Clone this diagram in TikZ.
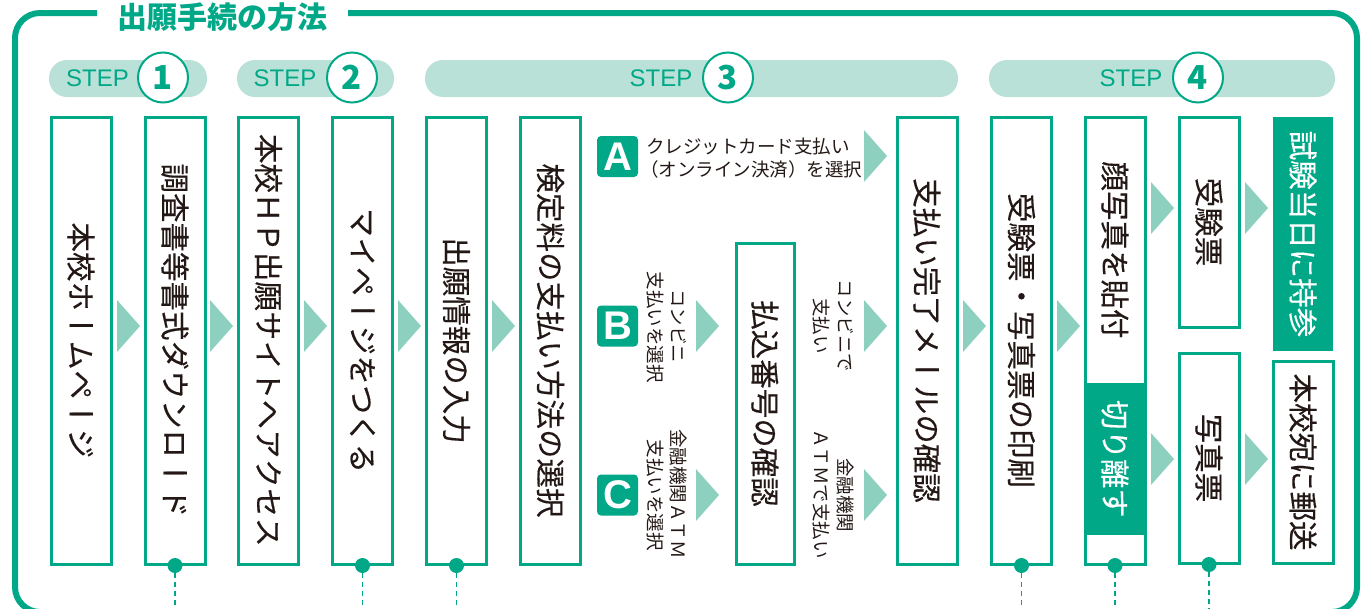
\documentclass[tikz,border=0pt]{standalone}
\usepackage{fontspec}
\newfontfamily\jp{Noto Sans CJK JP}
\newfontfamily\vt{Noto Sans CJK JP}[Vertical=RotatedGlyphs]
\newfontfamily\vtm{Noto Sans CJK JP}[Vertical=RotatedGlyphs, FakeBold=0.35]
\newfontfamily\lat{Liberation Sans}
\definecolor{gr}{HTML}{00A887}
\definecolor{pl}{HTML}{B9E1D7}
\definecolor{ar}{HTML}{8DD0C0}
\definecolor{ink}{HTML}{231815}
\newcommand\tri[2]{\fill[ar] (#1,#2-26) -- (#1+23,#2) -- (#1,#2+26) -- cycle;}
\begin{document}
\begin{tikzpicture}[x=1pt,y=-1pt,
  box/.style={draw=gr, line width=3pt, fill=white, rotate=-90, inner sep=0pt,
    minimum height=60pt, text=ink, font=\vtm\fontsize{29.5}{29.5}\selectfont},
  gbox/.style={fill=gr, rotate=-90, inner sep=0pt, minimum height=60pt,
    text=white, font=\vtm\fontsize{29.5}{29.5}\selectfont},
  vsmall/.style={rotate=-90, inner sep=0pt, text=ink, font=\vt\fontsize{18.5}{18.5}\selectfont},
  pill/.style={fill=pl, rounded corners=18pt, minimum height=37pt, inner sep=0pt},
  steptxt/.style={text=gr, inner sep=0pt, font=\lat\fontsize{24}{24}\selectfont},
  num/.style={circle, draw=gr, line width=2pt, fill=white, minimum size=50pt, inner sep=0pt,
    text=gr, font=\jp\bfseries\fontsize{33}{33}\selectfont},
  badge/.style={fill=gr, rounded corners=4pt, minimum size=41pt, inner sep=0pt,
    text=white, font=\lat\bfseries\fontsize{40}{40}\selectfont},
  dot/.style={circle, fill=gr, minimum size=15pt, inner sep=0pt},
  dline/.style={gr, line width=1.7pt, dash pattern=on 5pt off 4pt}]
\useasboundingbox (0,0) rectangle (1362,608);
% frame
\draw[gr, line width=6pt, rounded corners=25pt] (97,13) -- (15,13) -- (15,612) -- (1357,612) -- (1357,13) -- (348,13);
\node[text=gr, inner sep=0pt, font=\jp\bfseries\fontsize{30}{30}\selectfont] (title) at (222.5,17) {出願手続の方法};
% step pills
\node[pill, minimum width=158pt] (p1) at (128,78.5) {};
\node[pill, minimum width=157pt] (p2) at (315.5,78.5) {};
\node[pill, minimum width=533pt] (p3) at (691.5,78.5) {};
\node[pill, minimum width=346pt] (p4) at (1162,78.5) {};
\node[steptxt] (s1) at (97.5,78.5) {STEP};
\node[steptxt] (s2) at (285,78.5) {STEP};
\node[steptxt] (s3) at (661,78.5) {STEP};
\node[steptxt] (s4) at (1131,78.5) {STEP};
\node[num] (n1) at (163,77.5) {1};
\node[num] (n2) at (352,77.5) {2};
\node[num] (n3) at (728,77.5) {3};
\node[num] (n4) at (1198,77.5) {4};
% arrows
\tri{117}{326}\tri{210}{326}\tri{304}{326}\tri{398}{326}\tri{492}{326}
\tri{864}{156}\tri{696}{326}\tri{864}{326}\tri{696}{495}\tri{864}{495}
\tri{963}{326}\tri{1057}{326}
\tri{1151}{208}\tri{1245}{208}\tri{1151}{459}\tri{1245}{459}
% boxes
\node[box, minimum width=447pt] (b1) at (81,340.5) {本校ホームページ};
\node[box, minimum width=447pt] (b2) at (175,340.5) {調査書等書式ダウンロード};
\node[box, minimum width=447pt] (b3) at (268.5,340.5) {本校ＨＰ出願サイトへアクセス};
\node[box, minimum width=447pt] (b4) at (362.5,340.5) {マイページをつくる};
\node[box, minimum width=447pt] (b5) at (456.5,340.5) {出願情報の入力};
\node[box, minimum width=447pt] (b6) at (550.5,340.5) {検定料の支払い方法の選択};
\node[box, minimum width=321pt, minimum height=58pt] (bm) at (765,403.5) {払込番号の確認};
\node[box, minimum width=447pt] (b7) at (927,340.5) {支払い完了メールの確認};
\node[box, minimum width=447pt] (b8) at (1021.5,340.5) {受験票・写真票の印刷};
\node[box, minimum width=447pt] (b9) at (1115,340.5) {};
\node[gbox, minimum width=152pt] (b9g) at (1115,459) {切り離す};
\node[rotate=-90, inner sep=0pt, text=ink, font=\vtm\fontsize{29.5}{29.5}\selectfont] (b9t) at (1115,250) {顔写真を貼付};
\node[box, minimum width=210pt] (b10) at (1209,222) {受験票};
\node[box, minimum width=210pt] (b10b) at (1209,458) {写真票};
\node[gbox, minimum width=234pt] (b11) at (1303,234) {試験当日に持参};
\node[box, minimum width=202pt] (b11b) at (1303,462) {本校宛に郵送};
% badges and payment texts
\node[badge] (ba) at (617.5,156.5) {A};
\node[badge] (bb) at (617.5,326) {B};
\node[badge] (bc) at (617.5,495) {C};
\node[anchor=west, align=left, inner sep=0pt, text=ink, font=\jp\fontsize{18.5}{23}\selectfont] (ta) at (646,158.5)
  {クレジットカード支払い\\\hspace*{-6pt}（オンライン決済）を選択};
\node[vsmall] (tb1) at (679,326) {コンビニ};
\node[vsmall] (tb2) at (656,327) {支払いを選択};
\node[vsmall] (tc1) at (679,494) {金融機関ＡＴＭ};
\node[vsmall] (tc2) at (656,495) {支払いを選択};
\node[vsmall] (tb3) at (846,326) {コンビニで};
\node[vsmall] (tb4) at (821,326) {支払い};
\node[vsmall] (tc3) at (846,495) {金融機関};
\node[vsmall] (tc4) at (821,494) {ＡＴＭで支払い};
% dots and dashed lines
\foreach \b/\n in {b2/d1,b4/d2,b5/d3,b8/d4,b9/d5,b10b/d6}{
  \node[dot] (\n) at (\b.east) {};
  \coordinate (\n e) at ([yshift=-45pt]\b.east);
  \draw[dline] (\n) -- (\n e);
}
\end{tikzpicture}
\end{document}
